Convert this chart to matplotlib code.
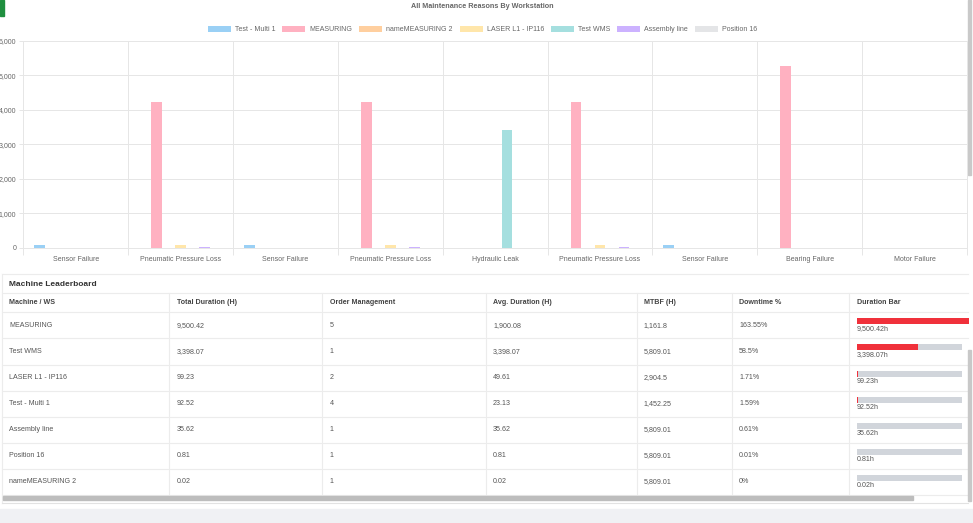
import numpy as np
import matplotlib
matplotlib.use("Agg")
import matplotlib.pyplot as plt
from matplotlib.patches import Rectangle
from matplotlib.ticker import FuncFormatter, FixedLocator

plt.rcParams['font.family'] = ['Liberation Sans', 'DejaVu Sans']

# ---- chart data ----
reasons = ['Sensor Failure', 'Pneumatic Pressure Loss', 'Sensor Failure',
           'Pneumatic Pressure Loss', 'Hydraulic Leak', 'Pneumatic Pressure Loss',
           'Sensor Failure', 'Bearing Failure', 'Motor Failure']
series_names = ['Test - Multi 1', 'MEASURING', 'nameMEASURING 2', 'LASER L1 - IP116',
                'Test WMS', 'Assembly line', 'Position 16']
test_multi = [80, 0, 80, 0, 0, 0, 80, 0, 0]
measuring = [0, 4230, 0, 4230, 0, 4230, 0, 5275, 0]
name_measuring2 = [0.02, 0, 0, 0, 0, 0, 0, 0, 0]
laser = [0, 85, 0, 85, 0, 85, 0, 0, 0]
test_wms = [0, 0, 0, 0, 3398.07, 0, 0, 0, 0]
assembly = [0, 30, 0, 30, 0, 30, 0, 0, 0]
position16 = [0, 0.81, 0, 0, 0, 0, 0, 0, 0]
series_vals = [test_multi, measuring, name_measuring2, laser, test_wms, assembly, position16]
series_colors = ['#9AD0F5', '#FFB1C1', '#FFCF9F', '#FFE6AA', '#A5DFDF', '#CCB2FF', '#E4E5E7']
y_ticks = [0, 1000, 2000, 3000, 4000, 5000, 6000]

# ---- leaderboard data ----
headers = ['Machine / WS', 'Total Duration (H)', 'Order Management', 'Avg. Duration (H)',
           'MTBF (H)', 'Downtime %', 'Duration Bar']
machines = ['MEASURING', 'Test WMS', 'LASER L1 - IP116', 'Test - Multi 1',
            'Assembly line', 'Position 16', 'nameMEASURING 2']
total_dur = [9500.42, 3398.07, 99.23, 92.52, 35.62, 0.81, 0.02]
orders = [5, 1, 2, 4, 1, 1, 1]
avg_dur = [1900.08, 3398.07, 49.61, 23.13, 35.62, 0.81, 0.02]
mtbf = [1161.8, 5809.01, 2904.5, 1452.25, 5809.01, 5809.01, 5809.01]
downtime = [163.55, 58.5, 1.71, 1.59, 0.61, 0.01, 0]


def fmt(v):
    s = f'{v:,.2f}'.rstrip('0').rstrip('.')
    return s


W, H = 973, 523
fig = plt.figure(figsize=(W / 100, H / 100), dpi=100)
fig.patch.set_facecolor('white')

# overlay in pixel coords for the table / decorations
ov = fig.add_axes([0, 0, 1, 1])
ov.set_xlim(0, W)
ov.set_ylim(H, 0)
ov.axis('off')
ov.patch.set_alpha(0)

# ---- bar chart ----
x0, x1, ytop, ybot = 23.3, 966.9, 40.7, 247.7
ax = fig.add_axes([x0 / W, 1 - ybot / H, (x1 - x0) / W, (ybot - ytop) / H])
n = len(series_names)
grp = 0.8
bw = grp / n
x = np.arange(len(reasons))
bars = []
for i, (name, vals, col) in enumerate(zip(series_names, series_vals, series_colors)):
    off = -grp / 2 + bw * (i + 0.5)
    b = ax.bar(x + off, vals, width=bw * 0.9, color=col, label=name, zorder=3)
    bars.append(b)

ax.set_xlim(-0.5, len(reasons) - 0.5)
ax.set_ylim(0, 6000)
ax.yaxis.set_major_locator(FixedLocator(y_ticks))
ax.yaxis.set_major_formatter(FuncFormatter(lambda v, p: f'{v:,.0f}'))
ax.set_xticks(x)
ax.set_xticklabels(reasons)
ax.set_xticks(np.arange(-0.5, len(reasons)), minor=True)
grid_c = '#e6e6e6'
ax.grid(axis='y', color=grid_c, linewidth=0.7)
ax.grid(axis='x', which='minor', color=grid_c, linewidth=0.7)
ax.set_axisbelow(True)
ax.tick_params(axis='x', which='major', length=0, pad=6, labelsize=5, labelcolor='#666')
ax.tick_params(axis='x', which='minor', length=5, color=grid_c, width=0.7)
ax.tick_params(axis='y', length=3, pad=2, labelsize=5, labelcolor='#666', color=grid_c, width=0.7)
for s in ax.spines.values():
    s.set_color(grid_c)
    s.set_linewidth(0.7)

fig.text(482 / W, 1 - 6.5 / H, 'All Maintenance Reasons By Workstation', ha='center',
         va='center', fontsize=5.2, fontweight='bold', color='#666')
fig.legend(handles=bars, loc='center', bbox_to_anchor=(482.5 / W, 1 - 29.5 / H), ncol=n,
           frameon=False, fontsize=5, handlelength=3.3, handleheight=1.0,
           handletextpad=0.6, columnspacing=1.0, labelcolor='#666')

# decorations: green tab, scrollbars, bottom strip
ov.add_patch(Rectangle((0, 0), 4, 16, color='#1f8f3f'))
ov.add_patch(Rectangle((967.5, 0), 3, 175, color='#c9c9c9'))
ov.add_patch(Rectangle((0, 509), W, 14, color='#f0f1f4'))

# ---- leaderboard ----
line_c = '#ececec'
ov.plot([1.7, 968], [274.3, 274.3], color=line_c, lw=0.8)
ov.plot([1.7, 1.7], [274.3, 503], color=line_c, lw=0.8)
ov.plot([1.7, 968], [503, 503], color='#e2e2e2', lw=0.8)
ov.text(9, 284, 'Machine Leaderboard', fontsize=6, fontweight='bold', color='#333', va='center')

col_x = [9, 177, 330, 493, 643.5, 739, 856.7]
col_sep = [169.3, 322.3, 485.7, 636.7, 731.7, 849.3]
head_top, head_bot = 293.3, 312.3
row_h = 26.1
nrows = len(machines)
tbl_bot = head_bot + row_h * nrows

ov.plot([1.7, 968], [head_top, head_top], color=line_c, lw=0.8)
for r in range(nrows + 1):
    yy = head_bot + row_h * r
    ov.plot([1.7, 968], [yy, yy], color=line_c, lw=0.8)
for cx in col_sep:
    ov.plot([cx, cx], [head_top, tbl_bot], color=line_c, lw=0.8)

for hx, h in zip(col_x, headers):
    ov.text(hx, (head_top + head_bot) / 2, h, fontsize=5.1, fontweight='bold',
            color='#444', va='center')

row_c = head_bot + row_h * (np.arange(nrows) + 0.5)
for i in range(nrows):
    cells = [machines[i], fmt(total_dur[i]), str(orders[i]), fmt(avg_dur[i]),
             fmt(mtbf[i]), fmt(downtime[i]) + '%']
    for cx, t in zip(col_x, cells):
        ov.text(cx, row_c[i], t, fontsize=5.1, color='#555', va='center')

# duration bars
track_l, track_w = 856.7, 105
clip_w = 969.3 - track_l
ov.barh(row_c - 4, [track_w] * nrows, left=track_l, height=6, color='#d1d5db', zorder=2)
fill = [min(d / 100 * track_w, clip_w) for d in downtime]
ov.barh(row_c - 4, fill, left=track_l, height=6, color='#f0313b', zorder=3)
for i in range(nrows):
    ov.text(track_l, row_c[i] + 3.5, fmt(total_dur[i]) + 'h', fontsize=5.1,
            color='#555', va='center')

# table scrollbars
ov.add_patch(Rectangle((3, 496), 910, 3.5, color='#bdbdbd', zorder=4))
ov.add_patch(Rectangle((968, 350), 3, 151, color='#c8c8c8', zorder=4))

fig.savefig('out.png', dpi=100)
